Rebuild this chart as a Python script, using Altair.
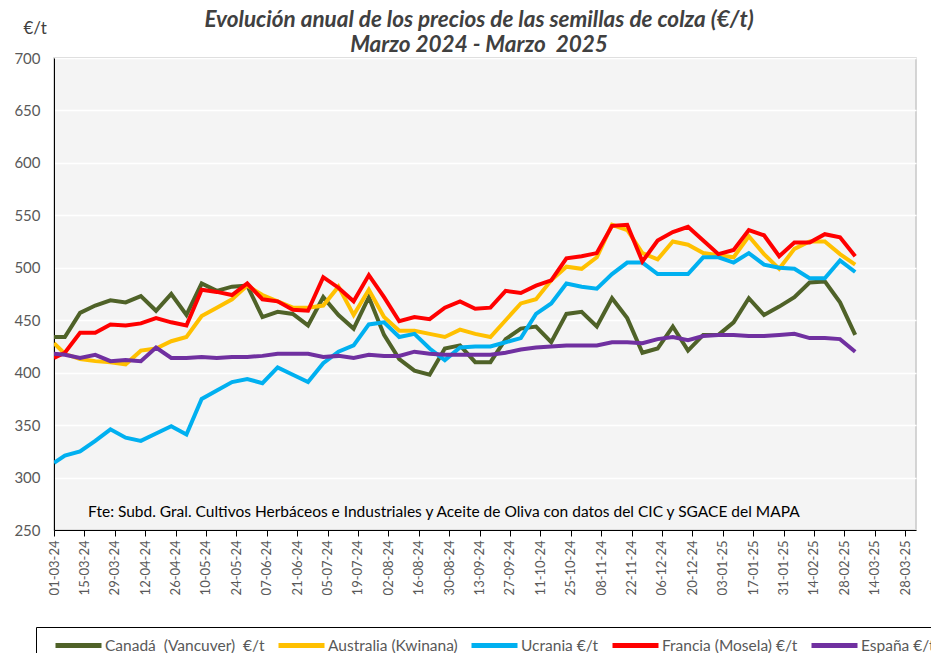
import altair as alt
import pandas as pd

# ---- data ----
series_names = ["Canadá\u00a0 (Vancuver)\u00a0 €/t", "Australia (Kwinana)", "Ucrania €/t",
                "Francia (Mosela) €/t", "España €/t"]
series_colors = ["#4f6228", "#ffc000", "#00b0f0", "#ff0000", "#7030a0"]

dates = ["2024-03-01"] + [d.strftime("%Y-%m-%d") for d in pd.date_range("2024-03-06", periods=53, freq="7D")]

canada = [434, 434, 457, 464, 469, 467, 473, 459, 475, 455, 485, 478, 482, 483, 453, 458, 456, 445,
          472, 455, 442, 472, 436, 413, 402, 398, 423, 426, 410, 410, 432, 442, 444, 429, 456, 458,
          444, 471, 452, 419, 423, 444, 421, 436, 436, 448, 471, 455, 463, 472, 486, 487, 467, 436]
australia = [428, 418, 413, 411, 410, 408, 421, 423, 430, 434, 454, 462, 470, 483, 474, 468, 462, 462,
             464, 482, 455, 479, 453, 440, 440, 437, 434, 441, 437, 434, 450, 466, 470, 488, 501, 499,
             510, 541, 536, 514, 508, 525, 522, 514, 512, 510, 530, 513, 499, 518, 525, 525, 513, 503]
ucrania = [314, 321, 325, 335, 346, 338, 335, 342, 349, 341, 375, 383, 391, 394, 390, 405, 398, 391,
           409, 420, 426, 446, 448, 434, 437, 423, 412, 424, 425, 425, 429, 433, 456, 466, 485, 482,
           480, 494, 505, 505, 494, 494, 494, 510, 510, 505, 514, 503, 500, 499, 490, 490, 507, 496]
francia = [414, 419, 438, 438, 446, 445, 447, 452, 448, 445, 479, 477, 474, 485, 470, 468, 460, 459,
           491, 481, 468, 493, 472, 449, 453, 451, 462, 468, 461, 462, 478, 476, 483, 488, 509, 511,
           514, 540, 541, 506, 526, 534, 539, 526, 513, 517, 536, 531, 511, 524, 524, 532, 529, 511]
espana = [418, 417, 414, 417, 411, 412, 411, 424, 414, 414, 415, 414, 415, 415, 416, 418, 418, 418,
          415, 416, 414, 417, 416, 416, 420, 418, 417, 417, 417, 417, 419, 422, 424, 425, 426, 426,
          426, 429, 429, 428, 432, 434, 431, 435, 436, 436, 435, 435, 436, 437, 433, 433, 432, 420]

tick_dates = [d for d in pd.date_range("2024-03-01", "2025-03-28", freq="14D")]
y_ticks = [250, 300, 350, 400, 450, 500, 550, 600, 650, 700]

title_lines = ["Evolución anual de los precios de las semillas de colza (€/t)",
               "Marzo 2024 - Marzo\u00a0 2025"]
note = ["Fte: Subd. Gral. Cultivos Herbáceos e Industriales y Aceite de Oliva con datos del CIC y SGACE del MAPA"]

rows = []
for name, vals in zip(series_names, [canada, australia, ucrania, francia, espana]):
    for d, v in zip(dates, vals):
        rows.append({"fecha": d, "serie": name, "valor": v})
df = pd.DataFrame(rows)

tick_values = [alt.DateTime(year=t.year, month=t.month, date=t.day, utc=True) for t in tick_dates]

lines = alt.Chart(df).mark_line(strokeWidth=4, strokeJoin="miter", clip=True).encode(
    x=alt.X("fecha:T",
            scale=alt.Scale(type="utc",
                            domain=[alt.DateTime(year=2024, month=3, date=1, utc=True),
                                    alt.DateTime(year=2025, month=4, date=2, utc=True)]),
            axis=alt.Axis(values=tick_values, format="%d-%m-%y", labelAngle=270,
                          labelAlign="right", labelBaseline="middle", labelFontSize=13,
                          labelColor="#595959", labelFont="Lato", labelPadding=4,
                          tickSize=6, tickColor="#000000", domainColor="#000000",
                          grid=False, title=None)),
    y=alt.Y("valor:Q", scale=alt.Scale(domain=[250, 700], nice=False, zero=False),
            axis=alt.Axis(values=y_ticks, labelFontSize=15, labelColor="#595959",
                          labelFont="Lato", ticks=False, labelPadding=14,
                          domainColor="#000000", gridColor="#ffffff", gridWidth=1.5,
                          title="€/t", titleAngle=0, titleAlign="left", titleBaseline="middle",
                          titleX=-31, titleY=-30, titleFontSize=17, titleFont="Lato",
                          titleFontWeight="normal", titleColor="#404040")),
    color=alt.Color("serie:N",
                    scale=alt.Scale(domain=series_names, range=series_colors),
                    legend=alt.Legend(title=None, orient="none", legendX=-18, legendY=569,
                                      direction="horizontal", gridAlign="none",
                                      symbolType="M0.1,0H4.7", symbolSize=400, symbolStrokeWidth=5,
                                      symbolFillColor="transparent",
                                      labelFontSize=15.5, labelFont="Lato", labelColor="#595959",
                                      labelLimit=400, labelOffset=38, columnPadding=0,
                                      strokeColor="#000000", padding=6)),
)

note_df = pd.DataFrame({"t": note})
note_layer = alt.Chart(note_df).mark_text(align="left", baseline="middle", fontSize=15.5,
                                           font="Lato", color="#000000").encode(
    x=alt.value(34), y=alt.value(454), text="t:N")

chart = alt.layer(lines, note_layer).properties(
    width=862, height=472,
    title=alt.Title(title_lines, fontSize=22.5, font="Lato", fontStyle="italic",
                    fontWeight="bold", color="#404040", lineHeight=25, anchor="middle",
                    offset=2, dx=-6, dy=39),
    autosize=alt.AutoSizeParams(type="none"),
    padding={"left": 46, "top": 50, "right": 15, "bottom": 123},
).configure_view(fill="#f4f4f4", stroke="#c8c8c8", strokeWidth=1.5)

chart.save("out.html", embed_options={"renderer": "svg", "actions": False})
